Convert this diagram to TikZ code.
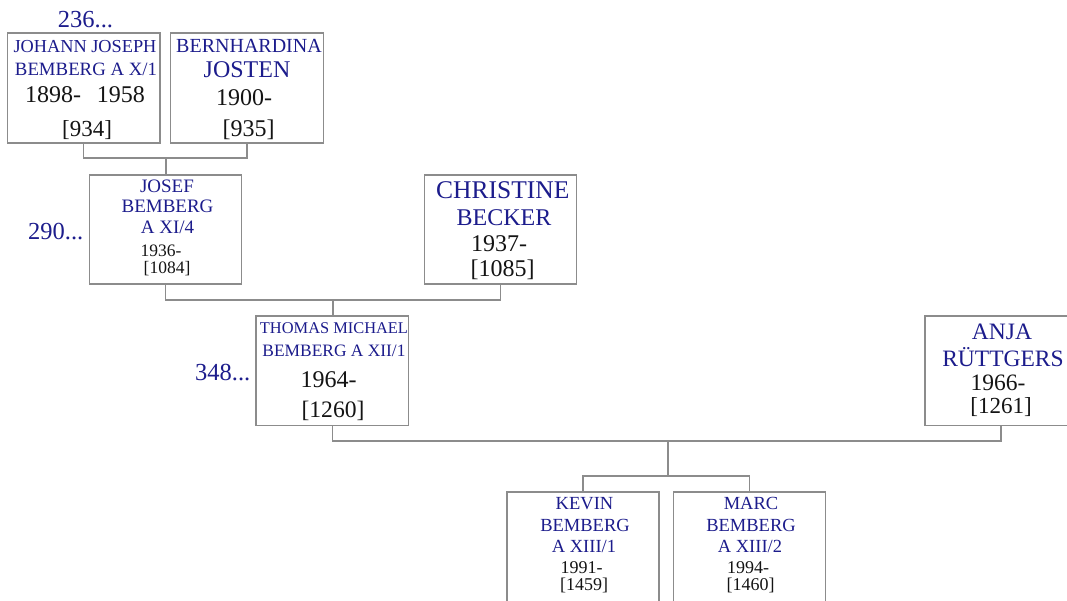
\documentclass[tikz,border=0pt]{standalone}
\usepackage{fontspec}
\setmainfont{Liberation Serif}
\definecolor{namecol}{RGB}{28,28,140}
\definecolor{datecol}{RGB}{20,20,20}
\definecolor{framecol}{RGB}{140,140,140}
\tikzset{
  pbox/.style={draw=framecol, line width=1.2pt, rectangle, inner sep=0pt, fill=white},
  txt/.style={inner sep=0pt, anchor=base},
  conn/.style={draw=framecol, line width=1.2pt}
}
\newcommand\ptext[6]{\node[txt, text=#5, font=\fontsize{#4}{#4}\selectfont] (#1) at (#2,#3) {#6};}
\newcommand\pboxat[5]{\node[pbox, minimum width=#4, minimum height=#5] (#1) at (#2,#3) {};}
\begin{document}
\begin{tikzpicture}[x=1pt,y=-1pt]
\useasboundingbox (0,0) rectangle (1067,601);
\clip (0,0) rectangle (1067,601);
% boxes
\pboxat{johann}{83.75}{88}{152.5pt}{110pt}
\pboxat{bern}{247}{88}{152.5pt}{110pt}
\pboxat{josef}{165.5}{229.5}{152pt}{109pt}
\pboxat{christine}{500.5}{229.5}{152pt}{109pt}
\pboxat{thomas}{332.3}{370.7}{152.5pt}{109.5pt}
\pboxat{anja}{1001}{370.7}{152pt}{109.5pt}
\pboxat{kevin}{583}{547}{152pt}{110pt}
\pboxat{marc}{749.5}{547}{152pt}{110pt}
% connectors
\coordinate (m1) at (166,158);
\coordinate (m2) at (333,300);
\coordinate (m3) at (668,441);
\coordinate (m4) at (668,476);
\draw[conn] (johann.south) |- (m1) -| (bern.south);
\draw[conn] (m1) -- (m1 |- josef.north);
\draw[conn] (josef.south) |- (m2) -| (christine.south);
\draw[conn] (m2) -- (m2 |- thomas.north);
\draw[conn] (thomas.south) |- (m3) -| (anja.south);
\draw[conn] (m3) -- (m4);
\draw[conn] (kevin.north) |- (m4) -| (marc.north);
% ancestor numbers
\ptext{n236}{85.5}{28}{24.5}{namecol}{236...}
\node[inner sep=0pt, anchor=base east, text=namecol, font=\fontsize{24.5}{24.5}\selectfont] (n290) at (83.5,240) {290...};
\node[inner sep=0pt, anchor=base east, text=namecol, font=\fontsize{24.5}{24.5}\selectfont] (n348) at (250.5,380) {348...};
% Johann
\ptext{jo1}{85}{53}{18.3}{namecol}{JOHANN JOSEPH}
\ptext{jo2}{86}{76}{18.8}{namecol}{BEMBERG A X/1}
\ptext{jo3}{85}{103}{24}{datecol}{1898-\hspace{16pt}1958}
\ptext{jo4}{87}{137}{23}{datecol}{[934]}
% Bernhardina
\ptext{be1}{249}{53}{20}{namecol}{BERNHARDINA}
\ptext{be2}{247}{78}{24}{namecol}{JOSTEN}
\ptext{be3}{244}{106}{24}{datecol}{1900-}
\ptext{be4}{248.5}{137}{24}{datecol}{[935]}
% Josef
\ptext{js1}{167}{193}{19}{namecol}{JOSEF}
\ptext{js2}{167.5}{213}{19}{namecol}{BEMBERG}
\ptext{js3}{167.5}{234}{19}{namecol}{A XI/4}
\ptext{js4}{161}{257}{17.5}{datecol}{1936-}
\ptext{js5}{167}{274}{17.5}{datecol}{[1084]}
% Christine
\ptext{ch1}{502.8}{199}{25.5}{namecol}{CHRISTINE}
\ptext{ch2}{504}{226}{24}{namecol}{BECKER}
\ptext{ch3}{499}{252}{24}{datecol}{1937-}
\ptext{ch4}{502.5}{277}{24}{datecol}{[1085]}
% Thomas
\ptext{th1}{334}{333}{16.4}{namecol}{THOMAS MICHAEL}
\ptext{th2}{334}{356}{17.4}{namecol}{BEMBERG A XII/1}
\ptext{th3}{328.7}{387}{24}{datecol}{1964-}
\ptext{th4}{333}{417}{23.6}{datecol}{[1260]}
% Anja
\ptext{an1}{1002}{339}{23.5}{namecol}{ANJA}
\ptext{an2}{1003}{366}{23.5}{namecol}{RÜTTGERS}
\ptext{an3}{998}{390}{23.5}{datecol}{1966-}
\ptext{an4}{1001}{413}{23}{datecol}{[1261]}
% Kevin
\ptext{ke1}{584.5}{509}{18.5}{namecol}{KEVIN}
\ptext{ke2}{585}{531.7}{18.5}{namecol}{BEMBERG}
\ptext{ke3}{584}{552.7}{18.5}{namecol}{A XIII/1}
\ptext{ke4}{581.5}{573}{18}{datecol}{1991-}
\ptext{ke5}{584}{590}{18}{datecol}{[1459]}
% Marc
\ptext{ma1}{751}{509}{18.5}{namecol}{MARC}
\ptext{ma2}{751}{531.7}{18.5}{namecol}{BEMBERG}
\ptext{ma3}{750}{552.7}{18.5}{namecol}{A XIII/2}
\ptext{ma4}{748}{573}{18}{datecol}{1994-}
\ptext{ma5}{750.7}{590}{18}{datecol}{[1460]}
\end{tikzpicture}
\end{document}
